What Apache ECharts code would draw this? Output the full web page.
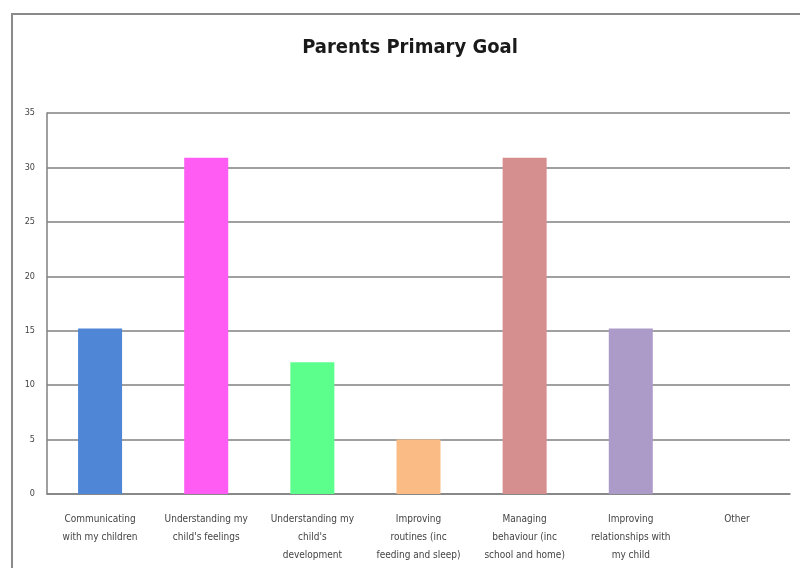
<!DOCTYPE html>
<html>
<head>
<meta charset="utf-8">
<script src="https://cdn.jsdelivr.net/npm/echarts@6/dist/echarts.min.js"></script>
<style>
html,body{margin:0;padding:0;background:#fff;}
#chart{width:800px;height:568px;}
</style>
</head>
<body>
<div id="chart"></div>
<script>
const categories = [
  "Communicating\nwith my children",
  "Understanding my\nchild's feelings",
  "Understanding my\nchild's\ndevelopment",
  "Improving\nroutines (inc\nfeeding and sleep)",
  "Managing\nbehaviour (inc\nschool and home)",
  "Improving\nrelationships with\nmy child",
  "Other"
];
const values = [15.2, 30.9, 12.1, 5.0, 30.9, 15.2, 0];
const barColors = ["#4F86D6", "#FF5CF4", "#5CFF8C", "#FBBB85", "#D68F8F", "#AC9BC8", "#999999"];
const yTicks = { min: 0, max: 35, interval: 5 };
const titleText = "Parents Primary Goal";

const FONT = "'DejaVu Sans Condensed', 'Liberation Sans', sans-serif";
const chart = echarts.init(document.getElementById('chart'));
chart.setOption({
  animation: false,
  backgroundColor: '#ffffff',
  title: {
    text: titleText,
    left: 405,
    textAlign: 'center',
    top: 33,
    textStyle: { fontFamily: FONT, fontWeight: 'bold', fontSize: 20, color: '#1a1a1a' }
  },
  graphic: [{
    type: 'rect',
    shape: { x: 12, y: 14, width: 800, height: 570 },
    style: { fill: 'none', stroke: '#8a8a8a', lineWidth: 2 },
    silent: true
  }],
  grid: { left: 47, right: 10, top: 113, bottom: 74, containLabel: false },
  xAxis: {
    type: 'category',
    data: categories,
    axisLine: { lineStyle: { color: '#808080', width: 1.5 } },
    axisTick: { show: false },
    axisLabel: {
      interval: 0,
      margin: 16,
      fontFamily: FONT,
      fontSize: 10,
      lineHeight: 18,
      color: '#444'
    }
  },
  yAxis: {
    type: 'value',
    min: yTicks.min,
    max: yTicks.max,
    interval: yTicks.interval,
    axisLine: { show: true, lineStyle: { color: '#808080', width: 1.5 } },
    axisTick: { show: false },
    splitLine: { lineStyle: { color: '#808080', width: 1.5 } },
    axisLabel: { margin: 12, fontFamily: FONT, fontSize: 9, color: '#444' }
  },
  series: [{
    type: 'bar',
    data: values.map((v, i) => ({ value: v, itemStyle: { color: barColors[i] } })),
    barWidth: 44
  }]
});
</script>
</body>
</html>
